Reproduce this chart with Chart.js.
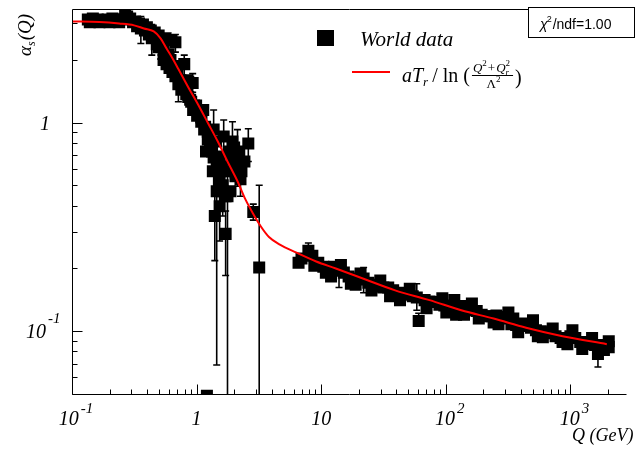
<!DOCTYPE html>
<html>
<head>
<meta charset="utf-8">
<script src="https://cdn.jsdelivr.net/npm/chart.js@4.4.0/dist/chart.umd.min.js"></script>
<style>
  html, body { margin: 0; padding: 0; background: #fff; }
</style>
</head>
<body>
<canvas id="alphaChart" width="635" height="450"></canvas>
<script>
// world data, Q in GeV and alpha_s(Q)
// low Q points without visible error bars
const lowQ = [0.134, 0.147, 0.161, 0.176, 0.193, 0.211, 0.231, 0.253, 0.277, 0.293, 0.321, 0.345, 0.371, 0.399, 0.429,
    0.461, 0.496, 0.564, 0.629, 0.543, 0.574, 0.606, 0.640, 0.676, 0.754, 0.826, 0.857, 0.905, 0.938, 0.991,
    1.03, 1.09, 1.17, 1.19, 1.23, 1.28, 1.33, 1.35, 1.43, 1.48, 1.51, 1.53, 1.59, 1.84, 1.87, 1.98, 2.05, 1.21,
    0.139, 0.166, 0.200, 0.239, 0.267, 0.309, 0.333, 0.385, 0.414, 0.479, 0.496, 0.543, 0.596, 0.617, 0.664,
    0.702, 0.741, 0.782, 0.826, 0.857, 0.888, 0.955, 1.01, 1.09, 1.13, 1.15, 1.23, 1.28, 1.30, 1.37, 1.45,
    1.53, 1.62, 1.71, 1.81, 1.91, 2.05, 2.29, 2.42, 2.00, 2.20];
const lowAlpha = [3.13, 3.16, 3.13, 3.09, 3.13, 3.16, 3.13, 3.13, 3.23, 3.16, 3.06, 2.99, 2.96, 2.87, 2.77,
    2.71, 2.62, 2.54, 2.49, 2.00, 1.91, 1.83, 1.75, 1.67, 1.44, 1.60, 1.33, 1.26, 1.15, 1.21,
    1.10, 1.06, 0.957, 0.728, 0.906, 0.769, 0.728, 0.585, 0.812, 0.652, 0.524, 0.689, 0.617, 0.585, 0.469, 0.652, 0.553, 0.049,
    3.03, 3.03, 3.03, 3.03, 3.27, 3.03, 2.90, 2.77, 2.65, 2.38, 2.30, 2.23, 2.13, 2.00, 1.87,
    1.75, 1.60, 1.50, 1.37, 1.57, 1.29, 1.21, 1.08, 1.01, 1.15, 0.927, 0.830, 0.886, 0.760, 0.681, 0.610,
    0.547, 0.501, 0.444, 0.728, 0.667, 0.617, 0.585, 0.652, 0.760, 0.700];

// points with visible error bars
const barQ = [0.357, 0.437, 0.514, 0.676, 0.714, 0.796, 0.93, 1.37, 1.40, 1.45, 1.53, 1.62, 1.65, 1.71,
    1.77, 1.94, 2.13, 2.25, 2.60, 2.85, 3.18, 7.89, 13.9, 21.9, 58.5, 60.6, 1664];
const barAlpha = [2.83, 2.54, 2.43, 2.43, 1.53, 1.91, 1.55, 0.927, 0.357, 0.469, 0.398, 0.469, 0.858, 0.293,
    0.444, 0.812, 0.728, 0.535, 0.794, 0.373, 0.202, 0.243, 0.195, 0.179, 0.145, 0.112, 0.0777];
const barLow = [2.40, 2.11, 2.02, 2.18, 1.26, 1.66, 1.40, 0.728, 0.218, 0.0689, 0.271, 0.357, 0.524, 0.185,
    0.0377, 0.553, 0.496, 0.444, 0.652, 0.341, 0.03, 0.223, 0.162, 0.153, 0.126, 0.112, 0.0674];
const barHigh = [3.23, 2.96, 2.71, 2.65, 1.75, 2.11, 1.72, 1.15, 0.444, 0.617, 0.496, 0.553, 1.03, 0.377,
    0.585, 1.01, 0.927, 0.652, 0.936, 0.407, 0.501, 0.265, 0.218, 0.202, 0.169, 0.122, 0.083];

// high Q points
const highQ = [6.95, 8.49, 9.47, 10.4, 11.6, 12.0, 12.7, 15.2, 16.6, 18.2, 18.9, 20.0, 23.9, 26.2, 28.7, 31.5, 34.5,
    35.7, 37.8, 41.4, 45.3, 49.6, 54.3, 67.6, 74.1, 81.1, 88.9, 97.3, 101, 107, 117, 117, 128, 140, 140, 162,
    177, 194, 213, 233, 242, 255, 280, 306, 336, 348, 367, 403, 441, 483, 529, 548, 579, 634, 695, 760, 834,
    912, 946, 1000, 1094, 1199, 1314, 1439, 1578, 1791, 1960, 2030,
    6.58, 8.81, 10.9, 14.4, 17.3, 20.7, 25.3, 29.8, 42.9, 51.4, 70.1, 93.8, 121, 153, 184, 265, 318, 381,
    501, 601, 721, 865, 1038, 1245, 1493, 1858, 2032];
const highAlpha = [0.223, 0.230, 0.213, 0.204, 0.200, 0.183, 0.204, 0.191, 0.183, 0.179, 0.167, 0.177, 0.171, 0.167, 0.164, 0.162, 0.162,
    0.147, 0.157, 0.153, 0.150, 0.150, 0.147, 0.141, 0.139, 0.138, 0.134, 0.133, 0.123, 0.132, 0.129, 0.141, 0.129, 0.132, 0.120, 0.136,
    0.125, 0.120, 0.118, 0.118, 0.110, 0.119, 0.117, 0.115, 0.108, 0.115, 0.107, 0.109, 0.106, 0.104, 0.101, 0.0947, 0.100, 0.0989, 0.0978, 0.0947, 0.0927,
    0.0927, 0.0867, 0.0947, 0.0927, 0.0887, 0.0867, 0.0887, 0.0858, 0.0858, 0.0849, 0.0839,
    0.213, 0.206, 0.191, 0.208, 0.169, 0.189, 0.157, 0.175, 0.141, 0.160, 0.129, 0.144, 0.120, 0.126, 0.115, 0.108, 0.123, 0.0989,
    0.113, 0.0937, 0.103, 0.0887, 0.101, 0.0821, 0.0927, 0.0812, 0.0896];

// red fit curve aT_r / ln((Q^2+Q_r^2)/Lambda^2)
const fitQ = [0.1, 0.166, 0.239, 0.315, 0.378, 0.453, 0.514, 0.574, 0.640, 0.714, 0.857, 1.03, 1.23, 1.48, 1.77,
    2.13, 2.46, 2.85, 3.30, 3.81, 4.66, 6.34, 9.12, 13.1, 22.7, 39.2, 74.1, 133, 242, 441, 865, 1960];
const fitAlpha = [3.06, 3.04, 2.99, 2.93, 2.83, 2.74, 2.54, 2.27, 2.04, 1.81, 1.48, 1.22, 1.00, 0.812, 0.652,
    0.524, 0.430, 0.365, 0.316, 0.283, 0.260, 0.238, 0.216, 0.200, 0.177, 0.157, 0.141, 0.126, 0.115, 0.104, 0.0947, 0.0867];

// axis labels
const xLabelValues = [0.1, 1, 10, 100, 1000];
const xLabelBase = ["10", "1", "10", "10", "10"];
const xLabelExp = ["-1", "", "", "2", "3"];
const yLabelValues = [0.1, 1];
const yLabelBase = ["10", "1"];
const yLabelExp = ["-1", ""];

const SERIF = '"Liberation Serif", "Times New Roman", serif';
const SANS = '"Liberation Sans", Arial, sans-serif';

function toXY(qs, vals) {
    return qs.map((q, i) => ({ x: q, y: vals[i] }));
}

const markerPoints = toXY(lowQ, lowAlpha).concat(toXY(barQ, barAlpha), toXY(highQ, highAlpha));
const fitPoints = toXY(fitQ, fitAlpha);

function logTicks(min, max) {
    const out = [];
    for (let e = Math.floor(Math.log10(min)); e <= Math.ceil(Math.log10(max)); e++) {
        for (let m = 1; m <= 9; m++) {
            const v = m * Math.pow(10, e);
            if (v >= min * 0.999 && v <= max * 1.001) out.push({ v, major: m === 1 });
        }
    }
    return out;
}

// "10" with a raised exponent
function drawPower(c, base, exp, x, baseline, size, supSize, supRise) {
    c.font = "italic " + size + "px " + SERIF;
    c.fillText(base, x, baseline);
    if (exp) {
        const w = c.measureText(base).width;
        c.font = "italic " + supSize + "px " + SERIF;
        c.fillText(exp, x + w + 2, baseline - supRise);
    }
}

function powerWidth(c, base, exp, size, supSize) {
    c.font = "italic " + size + "px " + SERIF;
    let w = c.measureText(base).width;
    if (exp) {
        c.font = "italic " + supSize + "px " + SERIF;
        w += 2 + c.measureText(exp).width;
    }
    return w;
}

const errorBars = {
    id: "errorBars",
    beforeDatasetsDraw(chart) {
        const { ctx, chartArea: a, scales: { x, y } } = chart;
        ctx.save();
        ctx.beginPath();
        ctx.rect(a.left, a.top, a.right - a.left, a.bottom - a.top);
        ctx.clip();
        ctx.strokeStyle = "#000";
        ctx.lineWidth = 1.6;
        barQ.forEach((q, i) => {
            const px = x.getPixelForValue(q);
            const top = y.getPixelForValue(barHigh[i]);
            const bot = y.getPixelForValue(barLow[i]);
            ctx.beginPath();
            ctx.moveTo(px, top);
            ctx.lineTo(px, bot);
            ctx.moveTo(px - 3.5, top);
            ctx.lineTo(px + 3.5, top);
            ctx.moveTo(px - 3.5, bot);
            ctx.lineTo(px + 3.5, bot);
            ctx.stroke();
        });
        ctx.restore();
    }
};

const frame = {
    id: "frame",
    afterDatasetsDraw(chart) {
        const { ctx, chartArea: a, scales: { x, y } } = chart;
        const L = Math.round(a.left) + 0.5;
        const B = Math.round(a.bottom) + 0.5;
        const T = Math.round(a.top) + 0.5;
        ctx.save();
        ctx.strokeStyle = "#000";
        ctx.lineWidth = 1;
        ctx.beginPath();
        ctx.moveTo(a.right, T);
        ctx.lineTo(L, T);
        ctx.lineTo(L, B);
        ctx.lineTo(a.right, B);
        ctx.stroke();

        // ticks pointing into the plot
        ctx.beginPath();
        logTicks(x.min, x.max).forEach(t => {
            const px = Math.round(x.getPixelForValue(t.v)) + 0.5;
            ctx.moveTo(px, B);
            ctx.lineTo(px, B - (t.major ? 10 : 5));
        });
        logTicks(y.min, y.max).forEach(t => {
            const py = Math.round(y.getPixelForValue(t.v)) + 0.5;
            ctx.moveTo(L, py);
            ctx.lineTo(L + (t.major ? 10 : 5), py);
        });
        ctx.stroke();

        // tick labels
        ctx.fillStyle = "#000";
        ctx.textAlign = "left";
        ctx.textBaseline = "alphabetic";
        xLabelValues.forEach((v, i) => {
            const px = x.getPixelForValue(v);
            const w = powerWidth(ctx, xLabelBase[i], xLabelExp[i], 20, 15);
            const start = px + (xLabelExp[i] ? 4 : 0) - w / 2;
            drawPower(ctx, xLabelBase[i], xLabelExp[i], start, a.bottom + 31, 20, 15, 12);
        });
        yLabelValues.forEach((v, i) => {
            const py = y.getPixelForValue(v);
            ctx.font = "italic 20px " + SERIF;
            const wb = ctx.measureText(yLabelBase[i]).width;
            const right = yLabelExp[i] ? a.left - 26 : a.left - 22;
            drawPower(ctx, yLabelBase[i], yLabelExp[i], right - wb, py + 7, 20, 15, 15);
        });

        // axis titles
        ctx.font = "italic 18px " + SERIF;
        ctx.fillText("Q (GeV)", 572, 441);

        ctx.translate(31, 56);
        ctx.rotate(-Math.PI / 2);
        ctx.font = "italic 19px " + SERIF;
        ctx.fillText("\u03b1", 0, 0);
        let w = ctx.measureText("\u03b1").width;
        ctx.font = "italic 12px " + SERIF;
        ctx.fillText("s", w, 4);
        w += ctx.measureText("s").width + 1;
        ctx.font = "italic 19px " + SERIF;
        ctx.fillText("(Q)", w, 0);
        ctx.restore();
    },
    afterDraw(chart) {
        const ctx = chart.ctx;
        ctx.save();
        ctx.fillStyle = "#000";
        ctx.textAlign = "left";
        ctx.textBaseline = "alphabetic";

        // legend: World data
        ctx.fillRect(317, 30, 17, 16);
        ctx.font = "italic 21px " + SERIF;
        ctx.fillText("World data", 360, 46);

        // legend: fit function
        ctx.strokeStyle = "#ff0000";
        ctx.lineWidth = 2;
        ctx.beginPath();
        ctx.moveTo(352, 72);
        ctx.lineTo(390, 72);
        ctx.stroke();

        ctx.font = "italic 20px " + SERIF;
        ctx.fillText("aT", 402, 82);
        let xPos = 402 + ctx.measureText("aT").width;
        ctx.font = "italic 13px " + SERIF;
        ctx.fillText("r", xPos, 86);
        xPos += ctx.measureText("r").width + 4;
        ctx.font = "20px " + SERIF;
        ctx.fillText("/ ln (", xPos, 82);
        xPos += ctx.measureText("/ ln (").width + 3;

        const numStart = xPos;
        ctx.font = "italic 13px " + SERIF;
        ctx.fillText("Q", xPos, 72);
        xPos += ctx.measureText("Q").width;
        ctx.font = "9px " + SERIF;
        ctx.fillText("2", xPos, 66);
        xPos += ctx.measureText("2").width + 1;
        ctx.font = "13px " + SERIF;
        ctx.fillText("+", xPos, 72);
        xPos += ctx.measureText("+").width + 1;
        ctx.font = "italic 13px " + SERIF;
        ctx.fillText("Q", xPos, 72);
        const qx = xPos + ctx.measureText("Q").width;
        ctx.font = "9px " + SERIF;
        ctx.fillText("2", qx, 66);
        ctx.font = "italic 9px " + SERIF;
        ctx.fillText("r", qx, 75);
        xPos = qx + ctx.measureText("2").width + 2;
        const numEnd = xPos;

        ctx.strokeStyle = "#000";
        ctx.lineWidth = 1;
        ctx.beginPath();
        ctx.moveTo(numStart - 1, 75.5);
        ctx.lineTo(numEnd + 1, 75.5);
        ctx.stroke();

        const mid = (numStart + numEnd) / 2;
        ctx.font = "13px " + SERIF;
        const lw = ctx.measureText("\u039b").width;
        ctx.fillText("\u039b", mid - 6, 88);
        ctx.font = "9px " + SERIF;
        ctx.fillText("2", mid - 6 + lw, 82);

        ctx.font = "20px " + SERIF;
        ctx.fillText(")", numEnd + 3, 84);

        // chi2 box
        ctx.fillStyle = "#fff";
        ctx.fillRect(528.5, 7.5, 106, 30);
        ctx.strokeStyle = "#000";
        ctx.lineWidth = 1;
        ctx.strokeRect(528.5, 7.5, 106, 30);
        ctx.fillStyle = "#000";
        ctx.font = "italic 14px " + SANS;
        ctx.fillText("\u03c7", 540, 29);
        let cx = 540 + ctx.measureText("\u03c7").width;
        ctx.font = "9px " + SANS;
        ctx.fillText("2", cx - 1, 22);
        cx += ctx.measureText("2").width;
        ctx.font = "14px " + SANS;
        ctx.fillText("/ndf=1.00", cx, 29);
        ctx.restore();
    }
};

const ctx = document.getElementById("alphaChart").getContext("2d");
const chart = new Chart(ctx, {
    type: "scatter",
    data: {
        datasets: [
            {
                label: "fit",
                data: fitPoints,
                showLine: true,
                borderColor: "#ff0000",
                borderWidth: 2,
                pointRadius: 0,
                cubicInterpolationMode: "monotone",
                order: 0
            },
            {
                label: "World data",
                data: markerPoints,
                pointStyle: "rect",
                pointRadius: 8.5,
                backgroundColor: "#000",
                borderColor: "#000",
                borderWidth: 0,
                order: 1
            }
        ]
    },
    options: {
        responsive: false,
        animation: false,
        layout: { padding: { top: 6, left: 0, right: 0, bottom: 0 } },
        plugins: { legend: { display: false }, tooltip: { enabled: false } },
        scales: {
            x: {
                type: "logarithmic",
                min: 0.1,
                max: 2820,
                ticks: { display: false },
                grid: { display: false },
                border: { display: false },
                afterFit: s => { s.height = 56; }
            },
            y: {
                type: "logarithmic",
                min: 0.05,
                max: 3.53,
                ticks: { display: false },
                grid: { display: false },
                border: { display: false },
                afterFit: s => { s.width = 72; }
            }
        }
    },
    plugins: [errorBars, frame]
});
</script>
</body>
</html>
